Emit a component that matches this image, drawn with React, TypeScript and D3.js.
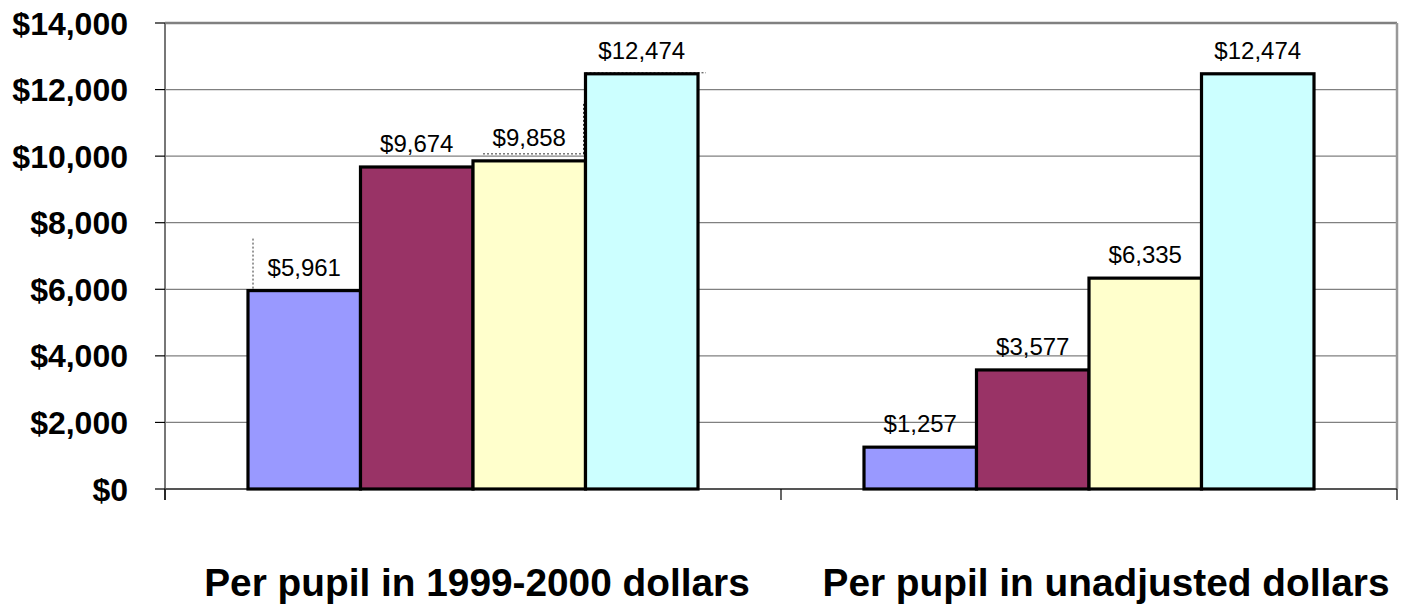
import React from "react";
import * as d3 from "d3";

const categories = ["Per pupil in 1999-2000 dollars", "Per pupil in unadjusted dollars"];
const seriesNames = ["A", "B", "C", "D"];
const seriesColors = ["#9999FF", "#993366", "#FFFFCC", "#CCFFFF"];
const values: number[][] = [
  [5961, 9674, 9858, 12474],
  [1257, 3577, 6335, 12474],
];
const yTicks = [0, 2000, 4000, 6000, 8000, 10000, 12000, 14000];

const W = 1410;
const H = 605;
const plot = { left: 165, right: 1397, top: 23, bottom: 489 };

export default function App() {
  const x0 = d3.scaleBand<string>().domain(categories).range([plot.left, plot.right]).paddingInner(0).paddingOuter(0);
  const inner = 450;
  const x1 = d3
    .scaleBand<string>()
    .domain(seriesNames)
    .range([(x0.bandwidth() - inner) / 2, (x0.bandwidth() + inner) / 2])
    .padding(0);
  const y = d3.scaleLinear().domain([0, 14000]).range([plot.bottom, plot.top]);
  const fmt = (v: number) => "$" + d3.format(",")(v);
  const labelShift = [4, 17];
  const font = "'Liberation Sans', Arial, sans-serif";

  return (
    <svg width={W} height={H} style={{ position: "absolute", left: 0, top: 0, background: "#fff" }}>
      {/* gridlines */}
      {yTicks.map((t) => (
        <line key={"g" + t} x1={plot.left} x2={plot.right} y1={y(t)} y2={y(t)} stroke="#808080" strokeWidth={t === 14000 ? 2.5 : 1.2} />
      ))}
      {/* right border */}
      <line x1={plot.right} x2={plot.right} y1={plot.top} y2={plot.bottom} stroke="#999" strokeWidth={2.5} />
      {/* y axis */}
      <line x1={plot.left} x2={plot.left} y1={plot.top} y2={plot.bottom + 11} stroke="#000" strokeWidth={1.2} />
      <line x1={plot.left} x2={plot.left} y1={plot.top} y2={plot.bottom} stroke="#777" strokeWidth={2} />
      {yTicks.map((t) => (
        <g key={"t" + t}>
          <line x1={plot.left - 10} x2={plot.left} y1={y(t)} y2={y(t)} stroke="#000" strokeWidth={1.2} />
          <text
            x={128}
            y={y(t)}
            dy="0.36em"
            textAnchor="end"
            fontFamily={font}
            fontWeight="bold"
            fontSize={32}
            fill="#000"
          >
            {fmt(t)}
          </text>
        </g>
      ))}
      {/* x axis */}
      <line x1={plot.left} x2={plot.right} y1={plot.bottom} y2={plot.bottom} stroke="#555" strokeWidth={2.2} />
      {[...categories.map((c) => x0(c) as number), plot.right].map((xx, i) => (
        <line key={"xt" + i} x1={xx} x2={xx} y1={plot.bottom} y2={plot.bottom + 11} stroke="#000" strokeWidth={1.2} />
      ))}
      {/* bars */}
      {categories.map((c, ci) => (
        <g key={c} transform={`translate(${x0(c)},0)`}>
          {values[ci].map((v, si) => (
            <rect
              key={si}
              x={x1(seriesNames[si])}
              y={y(v)}
              width={x1.bandwidth()}
              height={y(0) - y(v)}
              fill={seriesColors[si]}
              stroke="#000"
              strokeWidth={3.2}
            />
          ))}
          {values[ci].map((v, si) => (
            <text
              key={"l" + si}
              x={(x1(seriesNames[si]) as number) + x1.bandwidth() / 2}
              y={y(v) - 15}
              textAnchor="middle"
              fontFamily={font}
              fontSize={24}
              fill="#000"
            >
              {fmt(v)}
            </text>
          ))}
        </g>
      ))}
      {/* leader lines (dotted) */}
      {(() => {
        const b0 = (x0(categories[0]) as number);
        const xa = b0 + (x1(seriesNames[0]) as number);
        const xc = b0 + (x1(seriesNames[2]) as number);
        const xd = b0 + (x1(seriesNames[3]) as number);
        return (
          <g stroke="#000" strokeWidth={0.8} strokeDasharray="2,2" fill="none">
            <line x1={xa + 5} x2={xa + 5} y1={y(values[0][0]) - 52} y2={y(values[0][0])} />
            <line x1={xc + 10} x2={xd} y1={y(values[0][2]) - 7} y2={y(values[0][2]) - 7} />
            <line x1={xd - 2} x2={xd - 2} y1={y(values[0][2]) - 7} y2={y(values[0][3]) + 28} />
            <line x1={xd} x2={xd + x1.bandwidth() + 8} y1={y(values[0][3]) - 1} y2={y(values[0][3]) - 1} />
          </g>
        );
      })()}
      {/* category labels */}
      {categories.map((c, ci) => (
        <text
          key={"c" + c}
          x={(x0(c) as number) + x0.bandwidth() / 2 + labelShift[ci]}
          y={596}
          textAnchor="middle"
          fontFamily={font}
          fontWeight="bold"
          fontSize={38.8}
          fill="#000"
        >
          {c}
        </text>
      ))}
    </svg>
  );
}
